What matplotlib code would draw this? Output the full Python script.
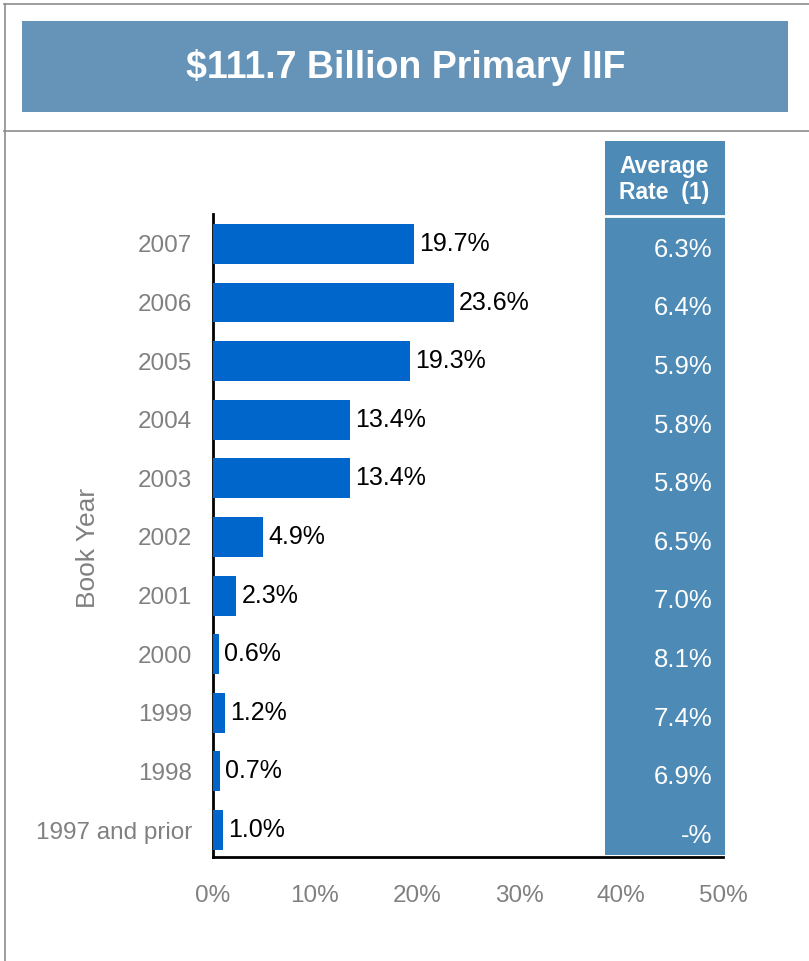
import matplotlib.pyplot as plt
from matplotlib.patches import Rectangle
from matplotlib.lines import Line2D

plt.rcParams['font.family'] = ['Liberation Sans', 'DejaVu Sans']

# 인수 연도별 보험 잔액 비중 (%)
years = ['2007', '2006', '2005', '2004', '2003', '2002', '2001', '2000', '1999', '1998', '1997 and prior']
shares = [19.7, 23.6, 19.3, 13.4, 13.4, 4.9, 2.3, 0.6, 1.2, 0.7, 1.0]
# 연도별 평균 요율 (마지막 구간은 값 없음)
avg_rates = ['6.3%', '6.4%', '5.9%', '5.8%', '5.8%', '6.5%', '7.0%', '8.1%', '7.4%', '6.9%', '-%']
x_ticks = [0, 10, 20, 30, 40, 50]

title = '$111.7 Billion Primary IIF'
W, H = 809, 961

fig = plt.figure(figsize=(W / 100, H / 100), dpi=100)

def fx(px):
    return px / W

def fy(py):
    return 1 - py / H

# 바깥 테두리 선
frame_kw = dict(color='#8c8c8c', linewidth=1.2, transform=fig.transFigure)
fig.add_artist(Line2D([fx(4), 1], [fy(4), fy(4)], **frame_kw))
fig.add_artist(Line2D([fx(5), fx(5)], [fy(4), 0], **frame_kw))
fig.add_artist(Line2D([fx(4), 1], [fy(131), fy(131)], **frame_kw))

# 제목 박스
fig.add_artist(Rectangle((fx(22), fy(112)), fx(788) - fx(22), fy(21) - fy(112),
                         transform=fig.transFigure, facecolor='#6694b8', edgecolor='none'))
fig.text(fx(406), fy(67), title, ha='center', va='center', color='white',
         fontsize=27, fontweight='bold')

# 평균 요율 열 배경 (막대 영역 뒤에 깔림)
fig.add_artist(Rectangle((fx(605), fy(855)), fx(725) - fx(605), fy(141) - fy(855),
                         transform=fig.transFigure, facecolor='#4d8ab5', edgecolor='none', zorder=-2))
fig.add_artist(Line2D([fx(605), fx(725)], [fy(216), fy(216)], color='white', linewidth=2,
                      transform=fig.transFigure, zorder=-1))
fig.text(fx(664), fy(167), 'Average', ha='center', va='center', color='white',
         fontsize=16.5, fontweight='bold')
fig.text(fx(664), fy(193), 'Rate  (1)', ha='center', va='center', color='white',
         fontsize=16.5, fontweight='bold')

# 막대 그래프 영역
ax = fig.add_axes([fx(213), fy(857), fx(723) - fx(213), fy(214) - fy(857)])
ax.patch.set_visible(False)
pos = list(range(len(years)))
ax.barh(pos, shares, height=0.68, color='#0066cc', zorder=3)
for p, v in zip(pos, shares):
    ax.text(v + 0.5, p, f'{v:.1f}%', va='center', ha='left', fontsize=18, color='black', zorder=4)

ax.set_xlim(0, 50)
ax.set_ylim(10.46, -0.51)
ax.set_yticks(pos)
ax.set_yticklabels(years, fontsize=17.5, color='#808080')
ax.set_xticks(x_ticks)
ax.set_xticklabels([f'{t}%' for t in x_ticks], fontsize=17.5, color='#808080')
ax.tick_params(axis='y', length=0, pad=15)
ax.tick_params(axis='x', length=0, pad=20)
for s in ['top', 'right']:
    ax.spines[s].set_visible(False)
for s in ['left', 'bottom']:
    ax.spines[s].set_linewidth(2)
ax.set_ylabel('Book Year', fontsize=19, color='#808080')
ax.yaxis.set_label_coords(-0.222, 0.48)

for p, r in zip(pos, avg_rates):
    ax.text(48.95, p + 0.1, r, ha='right', va='center', color='white', fontsize=18.5, zorder=5)

fig.savefig('out.png', dpi=100)
